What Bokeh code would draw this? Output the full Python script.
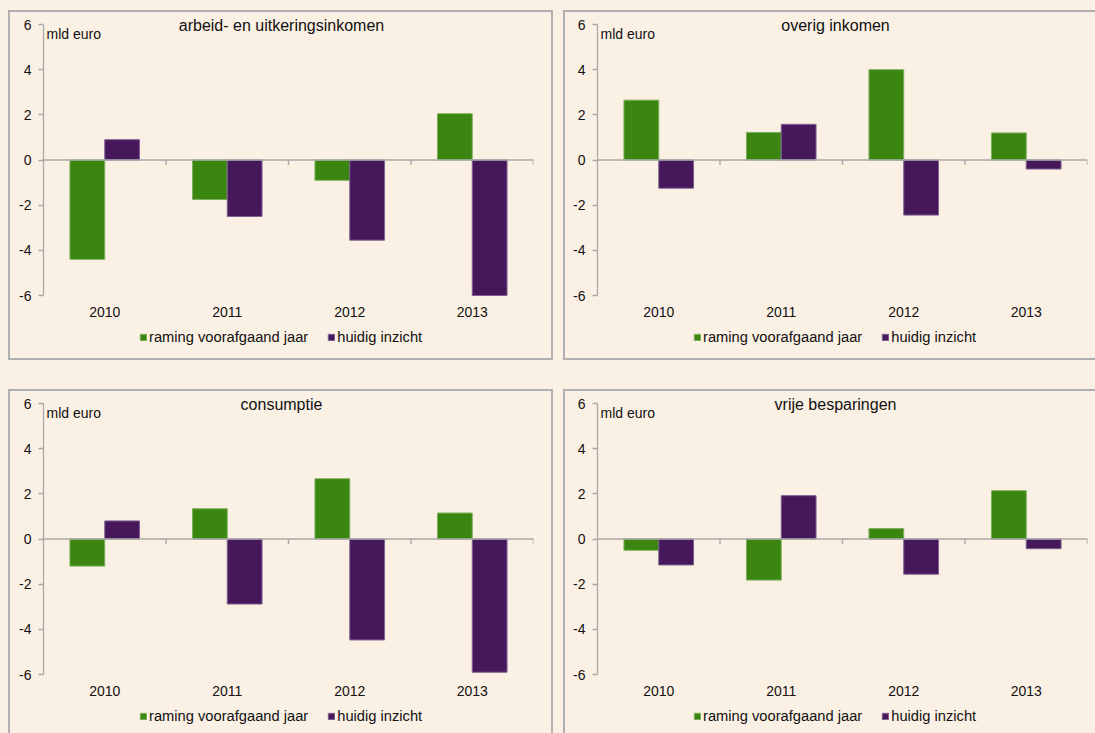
from bokeh.plotting import figure
from bokeh.models import (Range1d, FixedTicker, Span, Label, Legend, LegendItem,
                          ColumnDataSource, Spacer)
from bokeh.transform import dodge
from bokeh.layouts import row, column
from bokeh.embed import file_html
from bokeh.resources import INLINE

# ---------------- data ----------------
years = ["2010", "2011", "2012", "2013"]
series_names = ["raming voorafgaand jaar", "huidig inzicht"]
y_ticks = [-6, -4, -2, 0, 2, 4, 6]
unit_label = "mld euro"

titles = ["arbeid- en uitkeringsinkomen", "overig inkomen", "consumptie", "vrije besparingen"]

arbeid_raming = [-4.4, -1.75, -0.9, 2.05]
arbeid_huidig = [0.9, -2.5, -3.55, -6.0]

overig_raming = [2.65, 1.22, 4.0, 1.2]
overig_huidig = [-1.25, 1.58, -2.44, -0.4]

consumptie_raming = [-1.2, 1.34, 2.67, 1.15]
consumptie_huidig = [0.8, -2.88, -4.47, -5.9]

besparingen_raming = [-0.5, -1.82, 0.46, 2.14]
besparingen_huidig = [-1.15, 1.92, -1.56, -0.43]

# ---------------- style ----------------
CREAM = "#FBF0E4"
GREEN = "#3A8610"
GREEN_EDGE = "#7DAF5C"
PURPLE = "#46185B"
PURPLE_EDGE = "#7E6192"
AXIS = "#A9A9A9"
BORDER = "#B0B0B0"
TEXT = "#111111"
FONT = "Liberation Sans"

PX_UNIT = 271 / 12     # px per unit between -6 and 6
TOP_PX = 13            # px of frame above the 6 tick
LEG_BELOW = 42         # px from the -6 level to the legend centre
LEG_H = 16
BAR_W = 0.284


def make_panel(title, raming, huidig, width, height, left, right, bottom_px, shadow):
    x = list(range(len(years)))
    src = ColumnDataSource(dict(x=x, year=years, raming=raming, huidig=huidig))
    y_start = y_ticks[0] - bottom_px / PX_UNIT
    y_end = y_ticks[-1] + TOP_PX / PX_UNIT
    p = figure(width=width, height=height,
               x_range=Range1d(-0.5, len(years) - 0.5),
               y_range=Range1d(y_start, y_end),
               output_backend="svg", toolbar_location=None,
               min_border_left=left, min_border_right=right,
               min_border_top=1, min_border_bottom=0,
               background_fill_color=None, border_fill_color=None,
               outline_line_color=None,
               styles={"box-shadow": shadow})
    p.xgrid.visible = False
    p.ygrid.visible = False

    r1 = p.vbar(x=dodge("x", -BAR_W / 2, range=p.x_range), top="raming", bottom=0,
                width=BAR_W, source=src, fill_color=GREEN, line_color=GREEN_EDGE,
                line_width=1)
    r2 = p.vbar(x=dodge("x", BAR_W / 2, range=p.x_range), top="huidig", bottom=0,
                width=BAR_W, source=src, fill_color=PURPLE, line_color=PURPLE_EDGE,
                line_width=1)

    # horizontal axis line at zero, with category separator ticks
    p.add_layout(Span(location=0, dimension="width", line_color=AXIS, line_width=1.4))
    bounds = [i + 0.5 for i in x]
    p.segment(x0=bounds, y0=[0] * len(bounds), x1=bounds,
              y1=[-5 / PX_UNIT] * len(bounds), line_color=AXIS, line_width=1.4)

    # y axis
    yax = p.yaxis[0]
    yax.ticker = FixedTicker(ticks=y_ticks)
    yax.major_label_overrides = {t: str(t) for t in y_ticks}
    yax.bounds = (y_ticks[0], y_ticks[-1])
    yax.axis_line_color = AXIS
    yax.axis_line_width = 1.3
    yax.major_tick_line_color = AXIS
    yax.major_tick_line_width = 1.3
    yax.major_tick_out = 5
    yax.major_tick_in = 0
    yax.minor_tick_line_color = None
    yax.major_label_standoff = 7
    yax.major_label_text_font = FONT
    yax.major_label_text_font_size = "14px"
    yax.major_label_text_color = TEXT

    # x axis: labels only, drawn at the -6 level
    xax = p.xaxis[0]
    xax.fixed_location = y_ticks[0]
    xax.ticker = FixedTicker(ticks=x)
    xax.major_label_overrides = {i: yr for i, yr in zip(x, years)}
    xax.axis_line_color = None
    xax.major_tick_line_color = None
    xax.minor_tick_line_color = None
    xax.major_tick_out = 0
    xax.major_tick_in = 0
    xax.major_label_standoff = 11
    xax.major_label_text_font = FONT
    xax.major_label_text_font_size = "14px"
    xax.major_label_text_color = TEXT

    # title and unit
    p.add_layout(Label(x=(len(years) - 1) / 2, y=y_ticks[-1], text=title,
                       text_align="center", text_baseline="middle",
                       x_offset=-7, y_offset=-1, text_font=FONT,
                       text_font_size="16px", text_color=TEXT))
    p.add_layout(Label(x=-0.5, y=y_ticks[-1], text=unit_label,
                       text_align="left", text_baseline="middle",
                       x_offset=3, y_offset=-9, text_font=FONT,
                       text_font_size="14px", text_color=TEXT))

    leg_y = bottom_px - LEG_BELOW - LEG_H / 2
    legend = Legend(items=[LegendItem(label=series_names[0], renderers=[r1]),
                           LegendItem(label=series_names[1], renderers=[r2])],
                    orientation="horizontal", location=(96, leg_y),
                    glyph_width=8, glyph_height=8, label_standoff=2, spacing=19,
                    padding=0, margin=0, label_height=LEG_H,
                    border_line_color=None, background_fill_alpha=0,
                    label_text_font=FONT, label_text_font_size="14.7px",
                    label_text_color=TEXT)
    p.add_layout(legend)
    return p


def shadows(sides):
    parts = [f"inset 0 2px 0 0 {BORDER}"]
    if "l" in sides:
        parts.append(f"inset 2px 0 0 0 {BORDER}")
    if "r" in sides:
        parts.append(f"inset -2px 0 0 0 {BORDER}")
    if "b" in sides:
        parts.append(f"inset 0 -2px 0 0 {BORDER}")
    return ", ".join(parts)


p1 = make_panel(titles[0], arbeid_raming, arbeid_huidig, 545, 350, 35, 20, 65,
                shadows("lrb"))
p2 = make_panel(titles[1], overig_raming, overig_huidig, 532, 350, 34, 8, 65,
                shadows("lb"))
p3 = make_panel(titles[2], consumptie_raming, consumptie_huidig, 545, 344, 35, 20, 59,
                shadows("lr"))
p4 = make_panel(titles[3], besparingen_raming, besparingen_huidig, 532, 344, 34, 8, 59,
                shadows("l"))

row1 = row(Spacer(width=8, height=350), p1, Spacer(width=10, height=350), p2, spacing=0)
row2 = row(Spacer(width=8, height=344), p3, Spacer(width=10, height=344), p4, spacing=0)
root = column(Spacer(width=1095, height=10), row1, Spacer(width=1095, height=29), row2,
              spacing=0, styles={"background-color": CREAM})

open("out.html", "w").write(file_html(root, INLINE))
